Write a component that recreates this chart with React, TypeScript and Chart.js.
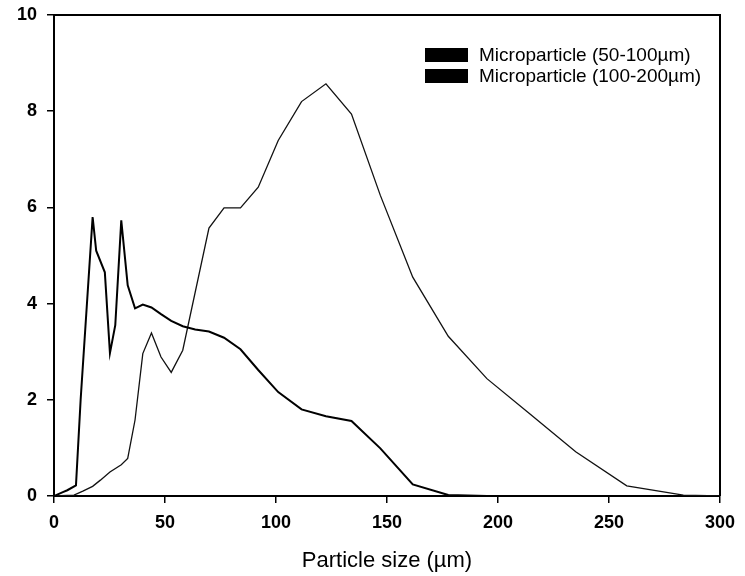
import React, { useEffect, useRef } from "react";
import { Chart, registerables } from "chart.js";

Chart.register(...registerables);

const seriesLabels = ["Microparticle (50-100µm)", "Microparticle (100-200µm)"];

const smallX = [0, 4, 6, 9.9, 12, 17.4, 19, 22.9, 25.2, 27.6, 30.3, 33.2, 36.5, 40, 43.9, 48.2, 52.8, 58, 63.6, 69.8, 76.6, 84, 92, 101, 111.5, 122.5, 134, 147, 161.6, 177.6, 195];
const smallY = [0, 0.08, 0.12, 0.22, 2.0, 5.8, 5.1, 4.65, 2.97, 3.55, 5.73, 4.38, 3.9, 3.98, 3.92, 3.78, 3.64, 3.53, 3.46, 3.42, 3.29, 3.05, 2.62, 2.16, 1.8, 1.66, 1.56, 0.99, 0.24, 0.02, 0];

const largeX = [0, 9, 13, 17.4, 20.9, 25.2, 30.3, 33.2, 36.5, 40, 43.9, 48.2, 52.8, 58, 69.8, 76.6, 84, 92, 101, 111.5, 122.5, 134, 147, 161.6, 177.6, 195, 214, 235, 258, 283.5, 300];
const largeY = [0, 0.02, 0.1, 0.2, 0.33, 0.5, 0.65, 0.78, 1.58, 2.96, 3.39, 2.89, 2.57, 3.03, 5.57, 5.99, 5.99, 6.42, 7.39, 8.2, 8.57, 7.94, 6.25, 4.55, 3.32, 2.44, 1.72, 0.92, 0.21, 0.02, 0];

const xTicks = [0, 50, 100, 150, 200, 250, 300];
const yTicks = [0, 2, 4, 6, 8, 10];

const FONT = "'Liberation Sans', Arial, sans-serif";

const framePlugin = {
  id: "frame",
  afterDraw(chart: any) {
    const { ctx, chartArea } = chart;
    ctx.save();
    ctx.strokeStyle = "#000";
    ctx.lineWidth = 2;
    ctx.beginPath();
    ctx.moveTo(chartArea.left, chartArea.top);
    ctx.lineTo(chartArea.right, chartArea.top);
    ctx.lineTo(chartArea.right, chartArea.bottom);
    ctx.stroke();
    // legend
    const boxX = chartArea.left + 371;
    const rows = [48, 69];
    ctx.font = `19px ${FONT}`;
    ctx.textBaseline = "middle";
    ctx.textAlign = "left";
    chart.data.datasets.forEach((ds: any, i: number) => {
      const y = rows[i];
      ctx.fillStyle = "#000";
      ctx.fillRect(boxX, y, 43, 14);
      ctx.fillText(ds.label, boxX + 54, y + 7.5);
    });
    ctx.restore();
  },
};

export default function App() {
  const ref = useRef<HTMLCanvasElement>(null);
  useEffect(() => {
    document.body.style.margin = "0";
    const chart = new Chart(ref.current!, {
      type: "line",
      data: {
        datasets: [
          {
            label: seriesLabels[0],
            data: smallX.map((x, i) => ({ x, y: smallY[i] })),
            borderColor: "#000",
            borderWidth: 2,
            pointRadius: 0,
            tension: 0,
            fill: false,
          },
          {
            label: seriesLabels[1],
            data: largeX.map((x, i) => ({ x, y: largeY[i] })),
            borderColor: "#111",
            borderWidth: 1.3,
            pointRadius: 0,
            tension: 0,
            fill: false,
          },
        ],
      },
      options: {
        animation: false,
        responsive: false,
        maintainAspectRatio: false,
        layout: { padding: { left: 0, top: 15, right: 25, bottom: 0 } },
        plugins: { legend: { display: false }, tooltip: { enabled: false } },
        scales: {
          x: {
            type: "linear",
            min: 0,
            max: 300,
            afterFit(scale: any) {
              scale.height = 80;
              scale.paddingLeft = 0;
              scale.paddingRight = 0;
            },
            afterBuildTicks(scale: any) {
              scale.ticks = xTicks.map((v) => ({ value: v }));
            },
            grid: { display: true, drawOnChartArea: false, drawTicks: true, tickLength: 7, color: "#000", lineWidth: 1.5 },
            border: { display: true, color: "#000", width: 2 },
            ticks: { color: "#000", padding: 9, font: { family: FONT, size: 18, weight: "bold" }, maxRotation: 0 },
            title: {
              display: true,
              text: "Particle size (µm)",
              color: "#000",
              font: { family: FONT, size: 22 },
              padding: { top: 0, bottom: 2 },
            },
          },
          y: {
            type: "linear",
            min: 0,
            max: 10,
            afterFit(scale: any) {
              scale.width = 54;
              scale.paddingTop = 0;
              scale.paddingBottom = 0;
            },
            afterBuildTicks(scale: any) {
              scale.ticks = yTicks.map((v) => ({ value: v }));
            },
            grid: { display: true, drawOnChartArea: false, drawTicks: true, tickLength: 7, color: "#000", lineWidth: 1.5 },
            border: { display: true, color: "#000", width: 2 },
            ticks: { color: "#000", padding: 10, font: { family: FONT, size: 18, weight: "bold" } },
          },
        },
      },
      plugins: [framePlugin],
    });
    return () => chart.destroy();
  }, []);
  return (
    <div style={{ width: 745, height: 576 }}>
      <canvas ref={ref} width={745} height={576} style={{ display: "block" }} />
    </div>
  );
}
